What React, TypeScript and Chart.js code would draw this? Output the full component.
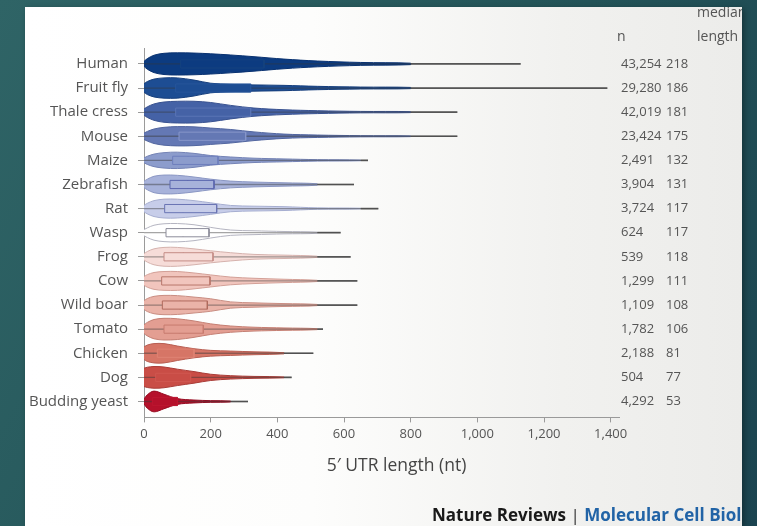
import { useEffect, useRef } from 'react';
import { Chart, registerables } from 'chart.js';

Chart.register(...registerables);

const species = ['Human', 'Fruit fly', 'Thale cress', 'Mouse', 'Maize', 'Zebrafish', 'Rat', 'Wasp', 'Frog', 'Cow', 'Wild boar', 'Tomato', 'Chicken', 'Dog', 'Budding yeast'];
const sampleCounts = [43254, 29280, 42019, 23424, 2491, 3904, 3724, 624, 539, 1299, 1109, 1782, 2188, 504, 4292];
const medianLengths = [218, 186, 181, 175, 132, 131, 117, 117, 118, 111, 108, 106, 81, 77, 53];
const lowerQuartiles = [110, 95, 95, 105, 86, 78, 62, 66, 60, 53, 55, 60, 40, 35, 25];
const upperQuartiles = [360, 320, 320, 305, 222, 210, 218, 195, 207, 198, 190, 178, 150, 140, 100];
const maxLengths = [1130, 1390, 940, 940, 672, 630, 703, 590, 620, 640, 640, 537, 508, 443, 312];
const xTickValues = [0, 200, 400, 600, 800, 1000, 1200, 1400];
const columnHeaders = ['n', 'median', 'length'];
const axisTitle = '5\u2032 UTR length (nt)';

// violin half-widths (in row units) sampled at these lengths
const densityGrid = [0, 10, 30, 60, 100, 150, 200, 260, 330, 420, 520, 650, 800];
const violinHalfWidths = [
  [0.1, 0.22, 0.36, 0.44, 0.46, 0.45, 0.42, 0.37, 0.3, 0.2, 0.12, 0.06, 0.03],
  [0.18, 0.27, 0.37, 0.42, 0.42, 0.33, 0.2, 0.15, 0.13, 0.11, 0.07, 0.04, 0.025],
  [0.13, 0.22, 0.34, 0.42, 0.45, 0.45, 0.4, 0.28, 0.17, 0.1, 0.06, 0.03, 0.02],
  [0.13, 0.2, 0.3, 0.37, 0.4, 0.39, 0.34, 0.28, 0.18, 0.09, 0.05, 0.025, 0.015],
  [0.1, 0.17, 0.26, 0.32, 0.34, 0.29, 0.2, 0.14, 0.09, 0.06, 0.03, 0.015, 0],
  [0.13, 0.22, 0.34, 0.39, 0.38, 0.31, 0.22, 0.14, 0.1, 0.07, 0.03, 0.015, 0],
  [0.13, 0.22, 0.33, 0.39, 0.39, 0.33, 0.24, 0.13, 0.1, 0.08, 0.03, 0.015, 0],
  [0.13, 0.2, 0.31, 0.37, 0.38, 0.33, 0.22, 0.11, 0.08, 0.05, 0.025, 0, 0],
  [0.13, 0.22, 0.33, 0.39, 0.39, 0.33, 0.25, 0.17, 0.1, 0.07, 0.025, 0, 0],
  [0.18, 0.26, 0.35, 0.39, 0.39, 0.33, 0.25, 0.16, 0.11, 0.07, 0.025, 0, 0],
  [0.18, 0.27, 0.36, 0.4, 0.39, 0.33, 0.26, 0.13, 0.09, 0.06, 0.025, 0, 0],
  [0.18, 0.28, 0.4, 0.45, 0.43, 0.34, 0.22, 0.13, 0.08, 0.05, 0.02, 0, 0],
  [0.26, 0.34, 0.4, 0.4, 0.3, 0.19, 0.12, 0.09, 0.06, 0.025, 0, 0, 0],
  [0.38, 0.42, 0.45, 0.43, 0.34, 0.24, 0.13, 0.07, 0.04, 0.02, 0, 0, 0],
  [0.1, 0.28, 0.43, 0.3, 0.12, 0.06, 0.035, 0.02, 0, 0, 0, 0, 0],
];

const fillColors = ['#0c3b80', '#1d4d93', '#4562a6', '#6478b4', '#8c9ccc', '#a7b2da', '#c7cde9', '#ffffff', '#f6dcd8', '#f1c5bd', '#eab3a8', '#e39e92', '#d67566', '#c94d46', '#b5112b'];
const outlineColors = ['#0a3270', '#173f7c', '#3a5390', '#52669f', '#7483b5', '#8b97c3', '#a6aed0', '#b4b4c0', '#d5b2ad', '#d3a097', '#c98e83', '#c47f73', '#b85f53', '#a93d38', '#960c22'];
const boxColors = ['#14427f', '#27559a', '#5a75b5', '#8796c9', '#6e7fbd', '#5b66ae', '#6a74b4', '#8c8c9a', '#c48c86', '#b8766b', '#b06a5d', '#c77a6e', '#de8273', '#cf5750', '#bd1630'];

const BOX_HALF = 0.17;
const FONT = '"Open Sans", "Noto Sans", sans-serif';

function buildDatasets() {
  const datasets: any[] = [];
  species.forEach((name, i) => {
    const pts: [number, number][] = [];
    for (let k = 0; k < densityGrid.length; k++) {
      const x = densityGrid[k];
      const w = violinHalfWidths[i][k];
      if (w <= 0 || x > maxLengths[i]) break;
      pts.push([x, w]);
    }
    const upper = pts.map(([x, w]) => ({ x, y: i - w }));
    const lower = pts.slice().reverse().map(([x, w]) => ({ x, y: i + w }));
    const violinEnd = pts[pts.length - 1][0];
    datasets.push({
      label: name,
      data: [...upper, ...lower],
      fill: 'shape',
      backgroundColor: fillColors[i],
      borderColor: outlineColors[i],
      borderWidth: 1,
      tension: 0.35,
      order: 4,
    });
    datasets.push({
      label: name + ' whisker',
      data: [{ x: 0, y: i }, { x: maxLengths[i], y: i }],
      fill: false,
      borderColor: 'rgba(55,55,55,0.45)',
      borderWidth: 1.3,
      order: 3,
    });
    datasets.push({
      label: name + ' tail',
      data: [{ x: violinEnd, y: i }, { x: maxLengths[i], y: i }],
      fill: false,
      borderColor: 'rgba(85,85,85,0.9)',
      borderWidth: 1.7,
      order: 3,
    });
    const q1 = lowerQuartiles[i];
    const q3 = upperQuartiles[i];
    datasets.push({
      label: name + ' box',
      data: [
        { x: q1, y: i - BOX_HALF },
        { x: q3, y: i - BOX_HALF },
        { x: q3, y: i + BOX_HALF },
        { x: q1, y: i + BOX_HALF },
        { x: q1, y: i - BOX_HALF },
      ],
      fill: 'shape',
      backgroundColor: fillColors[i],
      borderColor: boxColors[i],
      borderWidth: 1,
      tension: 0,
      order: 1,
    });
    datasets.push({
      label: name + ' median',
      data: [{ x: medianLengths[i], y: i - BOX_HALF }, { x: medianLengths[i], y: i + BOX_HALF }],
      fill: false,
      borderColor: boxColors[i],
      borderWidth: 1,
      order: 1,
    });
  });
  return datasets;
}

const rowTicks = (scale: any) => {
  scale.ticks = species.map((_, i) => ({ value: i }));
};

const textPlugin = {
  id: 'columnHeadersAndTitle',
  afterDraw(chart: any) {
    const { ctx, scales, chartArea } = chart;
    ctx.save();
    ctx.font = `14px ${FONT}`;
    ctx.fillStyle = '#555';
    ctx.textBaseline = 'middle';
    ctx.textAlign = 'left';
    ctx.fillText(columnHeaders[0], scales.y2.left - 2, 30);
    ctx.fillText(columnHeaders[1], scales.y3.left + 33, 6);
    ctx.fillText(columnHeaders[2], scales.y3.left + 33, 30);
    ctx.font = `17.5px ${FONT}`;
    ctx.fillStyle = '#444';
    ctx.textAlign = 'center';
    ctx.fillText(axisTitle, (chartArea.left + chartArea.right) / 2 + 15, 459);
    ctx.restore();
  },
};

export default function App() {
  const ref = useRef<HTMLCanvasElement>(null);
  useEffect(() => {
    const yCommon = {
      type: 'linear' as const,
      min: -0.66,
      max: 14.66,
      reverse: true,
      afterBuildTicks: rowTicks,
    };
    const chart = new Chart(ref.current!, {
      type: 'line',
      data: { datasets: buildDatasets() },
      options: {
        animation: false,
        responsive: false,
        devicePixelRatio: 1,
        events: [],
        layout: { padding: { top: 41, bottom: 80, left: 0, right: 0 } },
        elements: { point: { radius: 0 } },
        plugins: { legend: { display: false }, tooltip: { enabled: false } },
        scales: {
          x: {
            type: 'linear',
            min: 0,
            max: 1425,
            afterBuildTicks: (s: any) => { s.ticks = xTickValues.map((v) => ({ value: v })); },
            grid: { drawOnChartArea: false, drawTicks: true, tickLength: 5, color: '#9a9a9a' },
            border: { display: true, color: '#9a9a9a', width: 1 },
            ticks: {
              padding: 4,
              color: '#555',
              font: { family: FONT, size: 13 },
              callback: (v: any) => Number(v).toLocaleString('en-US'),
            },
          },
          y: {
            ...yCommon,
            position: 'left',
            afterFit: (s: any) => { s.width = 119; },
            grid: { drawOnChartArea: false, drawTicks: true, tickLength: 6, color: '#9a9a9a' },
            border: { display: true, color: '#9a9a9a', width: 1 },
            ticks: {
              autoSkip: false,
              padding: 10,
              color: '#555',
              font: { family: FONT, size: 15 },
              callback: (v: any) => species[v] ?? '',
            },
          },
          y2: {
            ...yCommon,
            position: 'right',
            weight: 0,
            afterFit: (s: any) => { s.width = 45; },
            grid: { display: false, drawTicks: false },
            border: { display: false },
            ticks: {
              autoSkip: false,
              padding: 2,
              color: '#555',
              font: { family: FONT, size: 13 },
              callback: (v: any) => (sampleCounts[v] !== undefined ? sampleCounts[v].toLocaleString('en-US') : ''),
            },
          },
          y3: {
            ...yCommon,
            position: 'right',
            weight: 1,
            afterFit: (s: any) => { s.width = 78; },
            grid: { display: false, drawTicks: false },
            border: { display: false },
            ticks: {
              autoSkip: false,
              padding: 2,
              color: '#555',
              font: { family: FONT, size: 13 },
              callback: (v: any) => (medianLengths[v] !== undefined ? String(medianLengths[v]) : ''),
            },
          },
        },
      } as any,
      plugins: [textPlugin],
    });
    return () => chart.destroy();
  }, []);

  return (
    <div style={{ position: 'fixed', inset: 0, background: 'linear-gradient(120deg, #2f6466 0%, #245559 50%, #1b4450 100%)', overflow: 'hidden' }}>
      <div
        style={{
          position: 'absolute', left: 25, top: 7, width: 717, height: 519, overflow: 'hidden',
          background: 'linear-gradient(to right, #ffffff 0%, #fdfdfc 40%, #f1f1ef 75%, #ececea 100%)',
          boxShadow: '2px 2px 6px rgba(0,0,0,0.35)',
        }}
      >
        <canvas ref={ref} width={717} height={519} style={{ position: 'absolute', left: 0, top: 0, width: 717, height: 519 }} />
        <div style={{ position: 'absolute', left: 407, top: 496, whiteSpace: 'nowrap', font: `bold 17px ${FONT}`, color: '#1a1a1a' }}>
          Nature Reviews <span style={{ fontWeight: 400, color: '#333' }}>|</span> <span style={{ color: '#2163a6' }}>Molecular Cell Biology</span>
        </div>
      </div>
    </div>
  );
}
